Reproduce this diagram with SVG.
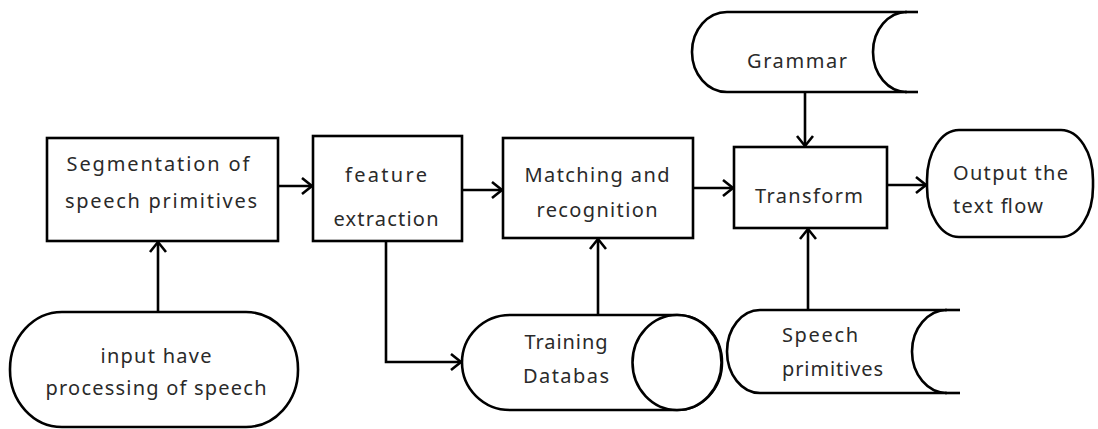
<svg xmlns="http://www.w3.org/2000/svg" width="1098" height="429" viewBox="0 0 1098 429">
<style>
.n{fill:#fff;stroke:#000;stroke-width:2.6}
.c{fill:none;stroke:#000;stroke-width:2.6}
text{font-family:"Noto Sans","Open Sans","DejaVu Sans",sans-serif;font-size:20px;fill:#2a2a2a;text-anchor:middle}
.l{text-anchor:start}
</style>
<defs>
<marker id="a" markerUnits="userSpaceOnUse" markerWidth="16" markerHeight="20" refX="12" refY="10" orient="auto">
<path d="M2,2 L12,10 L2,18" fill="none" stroke="#000" stroke-width="2.6"/>
</marker>
</defs>
<rect width="1098" height="429" fill="#fff"/>
<g id="connectors">
<line class="c" x1="278" y1="186" x2="312" y2="186" marker-end="url(#a)"/>
<line class="c" x1="462" y1="190" x2="502" y2="190" marker-end="url(#a)"/>
<line class="c" x1="693" y1="188" x2="733" y2="188" marker-end="url(#a)"/>
<line class="c" x1="887" y1="185" x2="926" y2="185" marker-end="url(#a)"/>
<line class="c" x1="805" y1="92" x2="805" y2="146" marker-end="url(#a)"/>
<line class="c" x1="158" y1="312" x2="158" y2="242" marker-end="url(#a)"/>
<polyline class="c" points="386,241 386,362 461,362" marker-end="url(#a)"/>
<line class="c" x1="598" y1="315" x2="598" y2="239" marker-end="url(#a)"/>
<line class="c" x1="808" y1="310" x2="808" y2="229" marker-end="url(#a)"/>
</g>
<g id="segmentation">
<rect class="n" x="47" y="138" width="231" height="103"/>
<text x="158" y="171" textLength="183">Segmentation of</text>
<text x="161" y="208" textLength="192">speech primitives</text>
</g>
<g id="feature">
<rect class="n" x="313" y="136" width="149" height="105"/>
<text x="386" y="182" textLength="82">feature</text>
<text x="386" y="226" textLength="105">extraction</text>
</g>
<g id="matching">
<rect class="n" x="503" y="138" width="190" height="100"/>
<text x="597" y="182" textLength="145">Matching and</text>
<text x="597" y="217" textLength="121">recognition</text>
</g>
<g id="transform">
<rect class="n" x="734" y="147" width="153" height="81"/>
<text x="809" y="203" textLength="108">Transform</text>
</g>
<g id="output">
<rect class="n" x="927" y="130" width="166" height="107" rx="32" ry="50"/>
<text class="l" x="953" y="180" textLength="115">Output the</text>
<text class="l" x="953" y="213" textLength="90">text flow</text>
</g>
<g id="grammar">
<path class="n" d="M727,12 L907,12 A34,40 0 0 0 907,92 L727,92 A35,40 0 0 1 727,12 Z"/>
<line class="c" x1="905" y1="12" x2="918" y2="12"/>
<line class="c" x1="905" y1="92" x2="918" y2="92"/>
<text x="797" y="68" textLength="100">Grammar</text>
</g>
<g id="input">
<rect class="n" x="10" y="312" width="288" height="115" rx="52" ry="57"/>
<text x="156" y="363" textLength="111">input have</text>
<text x="156" y="395" textLength="221">processing of speech</text>
</g>
<g id="training">
<path class="n" d="M510,315 L677,315 A45,47.5 0 0 1 677,410 L510,410 A48,47.5 0 0 1 510,315 Z"/>
<ellipse class="n" cx="677" cy="362.5" rx="44.5" ry="47.5"/>
<text x="566" y="349" textLength="83">Training</text>
<text x="566" y="383" textLength="86">Databas</text>
</g>
<g id="speech">
<path class="n" d="M760,310 L947,310 A35,41.5 0 0 0 947,393 L760,393 A33,41.5 0 0 1 760,310 Z"/>
<line class="c" x1="945" y1="310" x2="960" y2="310"/>
<line class="c" x1="945" y1="393" x2="960" y2="393"/>
<text class="l" x="782" y="342" textLength="76">Speech</text>
<text class="l" x="782" y="376" textLength="101">primitives</text>
</g>
</svg>
